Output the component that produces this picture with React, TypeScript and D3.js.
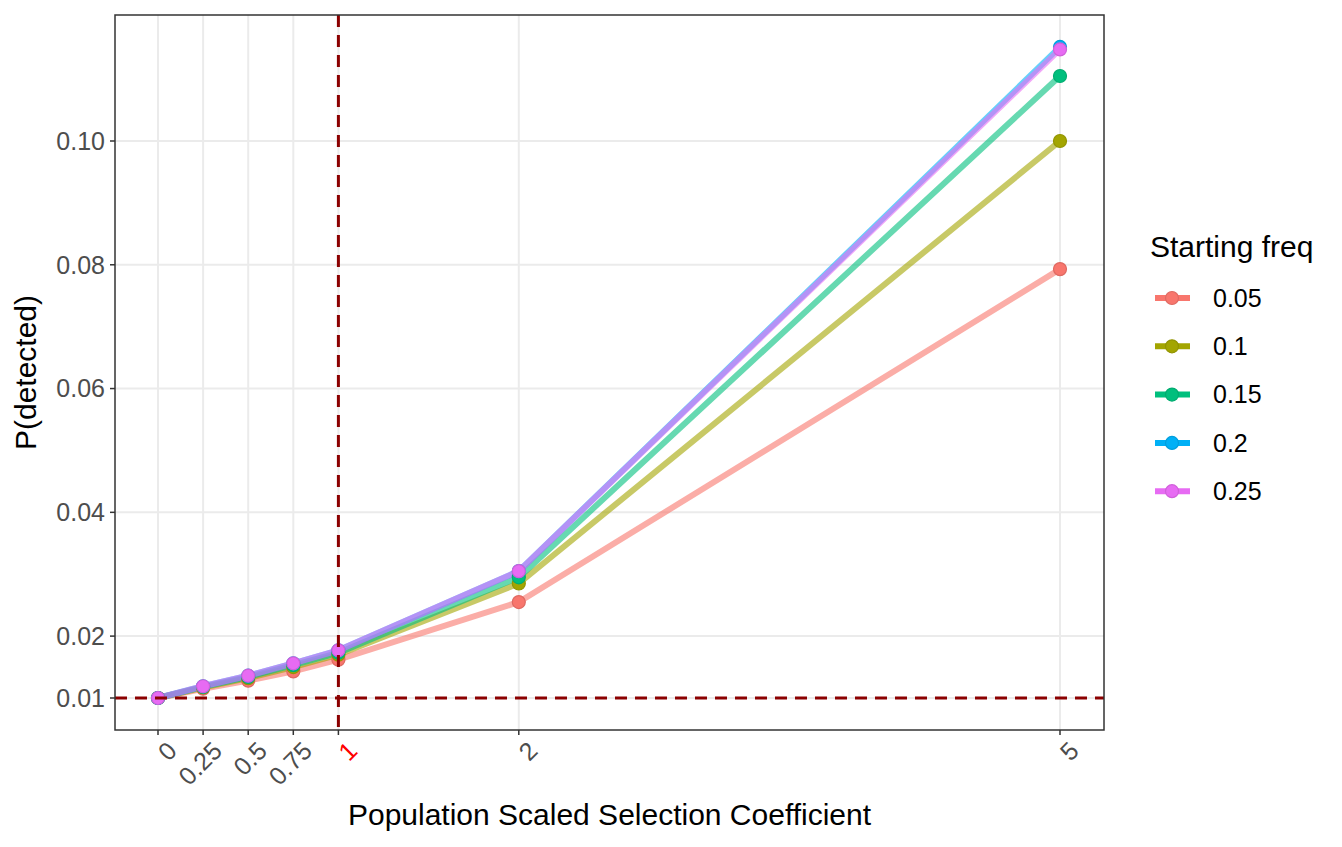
import React from "react";
import * as d3 from "d3";

const xVals = [0, 0.25, 0.5, 0.75, 1, 2, 5];
const xTickLabels = ["0", "0.25", "0.5", "0.75", "1", "2", "5"];
const yTicks = [0.01, 0.02, 0.04, 0.06, 0.08, 0.1];
const seriesNames = ["0.05", "0.1", "0.15", "0.2", "0.25"];
const colors = ["#F8766D", "#A3A500", "#00BF7D", "#00B0F6", "#E76BF3"];
const s005 = [0.01, 0.0115, 0.0128, 0.0143, 0.0162, 0.0255, 0.0793];
const s010 = [0.01, 0.0117, 0.0132, 0.015, 0.017, 0.0285, 0.1];
const s015 = [0.01, 0.0118, 0.0134, 0.0153, 0.0173, 0.0295, 0.1105];
const s020 = [0.01, 0.0119, 0.0136, 0.0156, 0.0177, 0.0305, 0.1152];
const s025 = [0.01, 0.0119, 0.0136, 0.0156, 0.0177, 0.0305, 0.1148];
const series = [s005, s010, s015, s020, s025];

const L = 115, R = 1104, T = 15, B = 730;

export default function App() {
  const x = d3.scaleLinear().domain([0, 5]).range([158, 1060]);
  const y = d3.scaleLinear().domain([0.01, 0.1]).range([698, 141]);
  const line = d3.line<number>().x((_, i) => x(xVals[i])).y((d) => y(d));
  const font = "Liberation Sans, Arial, sans-serif";
  return (
    <svg width={1342} height={847} style={{ position: "absolute", left: 0, top: 0, fontFamily: font }}>
      <rect width={1342} height={847} fill="#fff" />
      {yTicks.map((t) => (
        <line key={t} x1={L} x2={R} y1={y(t)} y2={y(t)} stroke="#EBEBEB" strokeWidth={2} />
      ))}
      {xVals.map((t) => (
        <line key={t} y1={T} y2={B} x1={x(t)} x2={x(t)} stroke="#EBEBEB" strokeWidth={2} />
      ))}
      {series.map((s, k) => (
        <path key={k} d={line(s) || ""} fill="none" stroke={colors[k]} strokeOpacity={0.6} strokeWidth={6} />
      ))}
      {series.map((s, k) =>
        s.map((v, i) => (
          <circle key={k + "-" + i} cx={x(xVals[i])} cy={y(v)} r={6.5} fill={colors[k]} stroke={d3.color(colors[k])!.darker(0.3).toString()} strokeWidth={1.2} />
        ))
      )}
      <line x1={L} x2={R} y1={y(0.01)} y2={y(0.01)} stroke="#8B0000" strokeWidth={3} strokeDasharray="12,8" />
      <line x1={x(1)} x2={x(1)} y1={T} y2={B} stroke="#8B0000" strokeWidth={3} strokeDasharray="12,8" />
      <rect x={L} y={T} width={R - L} height={B - T} fill="none" stroke="#333" strokeWidth={1.5} />
      {yTicks.map((t) => (
        <g key={t}>
          <line x1={L - 5} x2={L} y1={y(t)} y2={y(t)} stroke="#333" strokeWidth={1.5} />
          <text x={L - 10} y={y(t)} dy="0.35em" textAnchor="end" fontSize={25} fill="#4D4D4D">{t.toFixed(2)}</text>
        </g>
      ))}
      {xVals.map((t, i) => (
        <g key={t}>
          <line y1={B} y2={B + 5} x1={x(t)} x2={x(t)} stroke="#333" strokeWidth={1.5} />
          <text transform={`translate(${x(t) + 8},${B + 10}) rotate(-45)`} textAnchor="end" dy="0.7em" fontSize={25} fill={t === 1 ? "red" : "#4D4D4D"}>{xTickLabels[i]}</text>
        </g>
      ))}
      <text x={(L + R) / 2} y={825} textAnchor="middle" fontSize={30} fill="#000">Population Scaled Selection Coefficient</text>
      <text transform={`translate(36,${(T + B) / 2}) rotate(-90)`} textAnchor="middle" fontSize={30} fill="#000">P(detected)</text>
      <text x={1150} y={257} fontSize={30} fill="#000">Starting freq</text>
      {seriesNames.map((n, k) => {
        const cy = 298 + k * 48.3;
        return (
          <g key={n}>
            <line x1={1155} x2={1190} y1={cy} y2={cy} stroke={colors[k]} strokeWidth={6} />
            <circle cx={1172} cy={cy} r={6.5} fill={colors[k]} stroke={d3.color(colors[k])!.darker(0.3).toString()} strokeWidth={1.2} />
            <text x={1213} y={cy} dy="0.35em" fontSize={25} fill="#000">{n}</text>
          </g>
        );
      })}
    </svg>
  );
}
